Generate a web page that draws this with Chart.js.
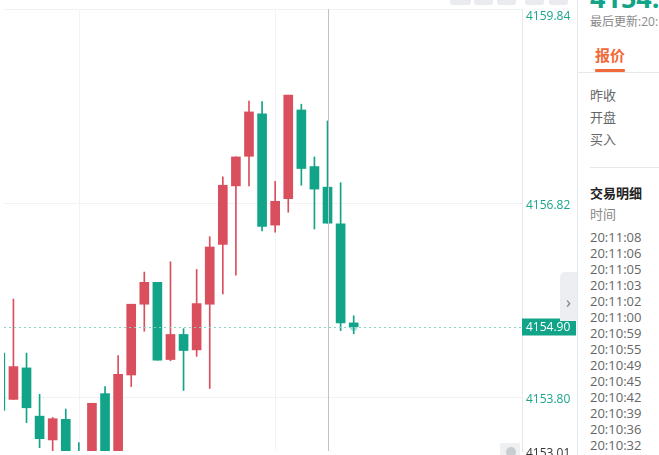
<!DOCTYPE html>
<html>
<head>
<meta charset="utf-8">
<script src="https://cdn.jsdelivr.net/npm/chart.js@4.4.1/dist/chart.umd.min.js"></script>
<style>
  html, body { margin: 0; padding: 0; background: #fff; }
  body { width: 659px; height: 455px; overflow: hidden; position: relative; font-family: "Open Sans", "Noto Sans CJK SC", sans-serif; }
  #chart-wrap { position: absolute; left: 0; top: 0; width: 577px; height: 455px; }
  .tool-btn { position: absolute; top: -4px; height: 9px; background: #e9ebef; border-radius: 3px; }
  #side { position: absolute; left: 577px; top: 0; width: 82px; height: 455px; background: #fff; border-left: 1px solid #e6e8ec; overflow: hidden; }
  #side .t { position: absolute; left: 12px; white-space: nowrap; font-size: 13px; color: #666; line-height: 16px; }
  #big-price { position: absolute; left: 12px; top: -21px; font-size: 27px; font-weight: 700; color: #12a488; font-family: "Open Sans", sans-serif; white-space: nowrap; }
  #tab { position: absolute; left: 17px; top: 44px; font-size: 15px; font-weight: 700; color: #f2693a; }
  #tab-line { position: absolute; left: 17px; top: 69px; width: 30px; height: 3px; background: #f2693a; border-radius: 1px; }
  #sep1 { position: absolute; left: 0; top: 72px; width: 82px; height: 1px; background: #e8e8e8; }
  #sep2 { position: absolute; left: 12px; top: 167px; width: 70px; height: 1px; background: #e8e8e8; }
  #times { position: absolute; left: 12px; top: 229px; font-size: 13px; line-height: 16px; color: #666; }
  #pull-tab { position: absolute; left: 560px; top: 272px; width: 17px; height: 49px; background: #eceef1; border-radius: 5px 0 0 0; color: #777; font-size: 16px; line-height: 60px; text-align: center; overflow: hidden; }
  #low-tag { position: absolute; left: 500px; top: 443px; width: 20px; height: 14px; background: #eef0f2; }
  #low-tag span { position: absolute; left: 6px; top: 4px; width: 10px; height: 10px; border-radius: 50%; background: #c9ccd1; }
  #low-val { position: absolute; left: 526px; top: 444px; font-size: 12px; color: #333; }
</style>
</head>
<body>
<div id="chart-wrap"><canvas id="kline" width="577" height="455"></canvas></div>
<div class="tool-btn" style="left:450px;width:21px;"></div>
<div class="tool-btn" style="left:474px;width:19px;"></div>
<div class="tool-btn" style="left:497px;width:19px;"></div>
<div class="tool-btn" style="left:525px;width:19px;"></div>
<div class="tool-btn" style="left:549px;width:19px;"></div>
<div id="pull-tab">›</div>
<div id="low-tag"><span></span></div>
<div id="low-val">4153.01</div>
<div id="side">
  <div id="big-price">4154.90</div>
  <div class="t" style="top:14px;font-size:12px;color:#888;">最后更新:20:11:08</div>
  <div id="tab">报价</div>
  <div id="tab-line"></div>
  <div id="sep1"></div>
  <div class="t" style="top:87px;">昨收</div>
  <div class="t" style="top:109px;">开盘</div>
  <div class="t" style="top:131px;">买入</div>
  <div id="sep2"></div>
  <div class="t" style="top:185px;font-weight:700;color:#222;">交易明细</div>
  <div class="t" style="top:206px;color:#888;">时间</div>
  <div id="times"></div>
</div>
<script>
// candle data, index -1 is the half cut one at the left edge
let idx    = [-1, 0, 1, 2, 3, 4, 5, 6, 7, 8, 9, 10, 11, 12, 13, 14, 15, 16, 17, 18, 19, 20, 21, 22, 23, 24, 25, 26];
let opens  = [4154.49, 4153.77, 4154.26, 4153.51, 4153.14, 4153.46, 4152.95, 4152.85, 4153.86, 4152.95, 4154.15, 4155.25, 4155.59, 4154.39, 4154.78, 4154.54, 4155.25, 4156.18, 4157.09, 4157.55, 4158.21, 4156.48, 4156.89, 4158.27, 4157.39, 4157.07, 4156.50, 4154.96];
let closes = [4153.60, 4154.28, 4153.64, 4153.16, 4153.47, 4152.90, 4152.80, 4153.71, 4152.92, 4154.16, 4155.25, 4155.59, 4154.38, 4154.78, 4154.53, 4155.26, 4156.14, 4157.10, 4157.54, 4158.24, 4156.46, 4156.85, 4158.50, 4157.36, 4157.04, 4156.51, 4154.96, 4154.90];
let highs  = [4154.55, 4155.33, 4154.49, 4153.85, 4153.49, 4153.62, 4153.10, 4153.71, 4153.97, 4154.45, 4155.25, 4155.75, 4155.59, 4155.91, 4154.87, 4155.79, 4156.30, 4157.23, 4157.54, 4158.41, 4158.40, 4157.16, 4158.50, 4158.36, 4157.54, 4158.10, 4157.14, 4155.07];
let lows   = [4153.55, 4153.77, 4153.41, 4153.02, 4152.81, 4152.80, 4152.70, 4152.80, 4152.88, 4152.90, 4153.97, 4154.83, 4154.38, 4154.37, 4153.91, 4154.44, 4153.94, 4155.41, 4155.70, 4157.09, 4156.39, 4156.37, 4156.68, 4157.10, 4156.42, 4156.51, 4154.84, 4154.79];

let yTicks = [4159.84, 4156.82, 4153.80];
let xGridAt = [5, 20];
let lastPrice = 4154.90;
let crossIdx = 24;
let tradeTimes = ['20:11:08', '20:11:06', '20:11:05', '20:11:03', '20:11:02', '20:11:00', '20:10:59', '20:10:55', '20:10:49', '20:10:45', '20:10:42', '20:10:39', '20:10:36', '20:10:32'];

const UP = '#da4f5d';
const DOWN = '#12a488';
const AXIS_TXT = '#1aa58b';

document.getElementById('times').innerHTML = tradeTimes.map(t => `<div>${t}</div>`).join('');

let colors = idx.map((_, i) => closes[i] >= opens[i] ? UP : DOWN);
let bodies = idx.map((x, i) => ({ x: x, y: [opens[i], closes[i]] }));
let wicks = idx.map((x, i) => ({ x: x, y: [lows[i], highs[i]] }));

const overlay = {
    id: 'overlay',
    beforeDatasetsDraw(chart) {
        // vertical grid lines (x axis itself is hidden)
        let ctx = chart.ctx;
        let area = chart.chartArea;
        let xs = chart.scales.x;
        ctx.save();
        ctx.strokeStyle = '#f2f3f5';
        ctx.lineWidth = 1;
        xGridAt.forEach(v => {
            let gx = Math.round(xs.getPixelForValue(v)) + 0.5;
            ctx.beginPath();
            ctx.moveTo(gx, area.top);
            ctx.lineTo(gx, area.bottom);
            ctx.stroke();
        });
        ctx.restore();
    },
    afterDatasetsDraw(chart) {
        let ctx = chart.ctx;
        let area = chart.chartArea;
        let ys = chart.scales.y;
        let xs = chart.scales.x;
        ctx.save();
        // crosshair
        let cx = Math.round(xs.getPixelForValue(crossIdx)) + 0.5;
        ctx.strokeStyle = '#bfc2c6';
        ctx.lineWidth = 1;
        ctx.beginPath();
        ctx.moveTo(cx, area.top);
        ctx.lineTo(cx, area.bottom);
        ctx.stroke();
        // last price dotted line
        let py = Math.round(ys.getPixelForValue(lastPrice)) + 0.5;
        ctx.strokeStyle = '#86d3c4';
        ctx.setLineDash([2, 3]);
        ctx.beginPath();
        ctx.moveTo(area.left, py);
        ctx.lineTo(area.right, py);
        ctx.stroke();
        ctx.setLineDash([]);
        // axis labels
        ctx.font = '12px "Open Sans", sans-serif';
        ctx.textBaseline = 'middle';
        ctx.textAlign = 'left';
        ctx.fillStyle = AXIS_TXT;
        yTicks.forEach(v => {
            let y = ys.getPixelForValue(v) + 2;
            if (y < 17) y = 17;
            ctx.fillText(v.toFixed(2), area.right + 4, y);
        });
        // last price tag
        ctx.fillStyle = DOWN;
        ctx.fillRect(area.right, py - 9, 54, 17);
        ctx.fillStyle = '#fff';
        ctx.fillText(lastPrice.toFixed(2), area.right + 4, py);
        ctx.restore();
    }
};

let chart = new Chart(document.getElementById('kline'), {
    type: 'bar',
    data: {
        datasets: [
            {
                label: 'body',
                data: bodies,
                backgroundColor: colors,
                borderWidth: 0,
                barThickness: 9,
                grouped: false
            },
            {
                label: 'wick',
                data: wicks,
                backgroundColor: colors,
                borderWidth: 0,
                barThickness: 1,
                grouped: false
            },
            {
                type: 'scatter',
                label: 'now',
                data: [{ x: idx[idx.length - 1], y: lastPrice }],
                pointRadius: 4,
                pointBackgroundColor: 'rgba(18,164,136,0.35)',
                pointBorderWidth: 0
            }
        ]
    },
    options: {
        responsive: false,
        animation: false,
        events: [],
        layout: { padding: { top: 9, left: 0, right: 0, bottom: 0 } },
        plugins: { legend: { display: false }, tooltip: { enabled: false } },
        scales: {
            x: {
                type: 'linear',
                display: false,
                offset: false,
                min: -0.72,
                max: 38.86
            },
            y: {
                position: 'right',
                min: 4152.968,
                max: 4159.84,
                ticks: { display: false, padding: 0 },
                grid: { color: '#f1f2f4', drawTicks: false },
                border: { display: true, color: '#e6e8ec' },
                afterBuildTicks: (axis) => { axis.ticks = yTicks.map(v => ({ value: v })); },
                afterFit: (axis) => { axis.width = 55; }
            }
        }
    },
    plugins: [overlay]
});
</script>
</body>
</html>
